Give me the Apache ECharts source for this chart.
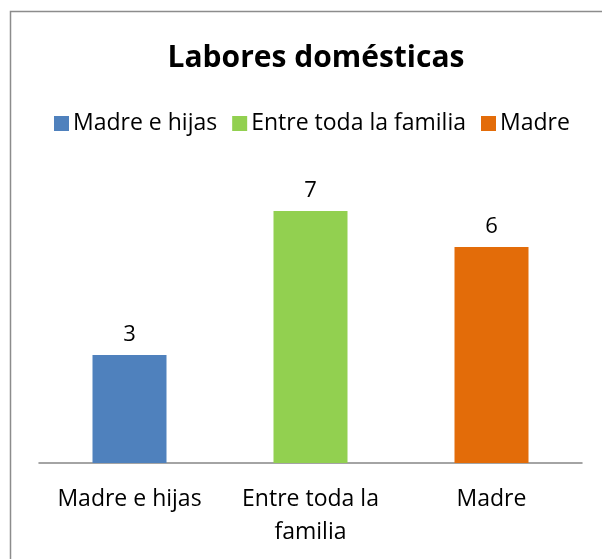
<!DOCTYPE html>
<html>
<head>
<meta charset="utf-8">
<script src="https://cdn.jsdelivr.net/npm/echarts@6/dist/echarts.min.js"></script>
<style>
  html, body { margin: 0; padding: 0; background: #fff; }
  #chart { width: 602px; height: 559px; }
</style>
</head>
<body>
<div id="chart"></div>
<script>
// ── 数据 ─────────────────────────────
const categories = ["Madre e hijas", "Entre toda la\nfamilia", "Madre"];
const seriesNames = ["Madre e hijas", "Entre toda la familia", "Madre"];
const values = [3, 7, 6];
const colors = ["#4F81BD", "#92D050", "#E36C09"];

const chart = echarts.init(document.getElementById("chart"));
const font = "'Open Sans', 'Noto Sans', sans-serif";

// one series per category so the legend shows each colour
const series = seriesNames.map((name, i) => ({
  name,
  type: "bar",
  stack: "all",
  barWidth: 74,
  itemStyle: { color: colors[i] },
  label: {
    show: true, position: "top", distance: 9,
    color: "#000", fontSize: 22, fontFamily: font,
  },
  data: values.map((v, j) => (j === i ? v : "-")),
}));

chart.setOption({
  animation: false,
  backgroundColor: "#fff",
  title: {
    text: "Labores domésticas",
    left: 311, top: 38, textAlign: "center",
    textStyle: { fontSize: 30, fontWeight: "bold", color: "#000", fontFamily: font },
  },
  legend: {
    top: 107, left: 49,
    itemWidth: 15, itemHeight: 15, itemGap: 15,
    icon: "rect",
    textStyle: { fontSize: 23, color: "#000", fontFamily: font, padding: [0, 0, 0, -1] },
    data: seriesNames,
  },
  grid: { left: 39, right: 20, top: 175, bottom: 96 },
  xAxis: {
    type: "category",
    data: categories,
    axisLine: { lineStyle: { color: "#868686", width: 1.5 } },
    axisTick: { show: false },
    axisLabel: {
      color: "#000", fontSize: 23, fontFamily: font, margin: 20, lineHeight: 33,
      interval: 0, hideOverlap: false,
    },
  },
  yAxis: { type: "value", min: 0, max: 8, show: false },
  graphic: [{
    type: "rect",
    shape: { x: 10.5, y: 11.5, width: 620, height: 600 },
    style: { fill: null, stroke: "#8c8c8c", lineWidth: 1.5 },
  }],
  series,
});
</script>
</body>
</html>
